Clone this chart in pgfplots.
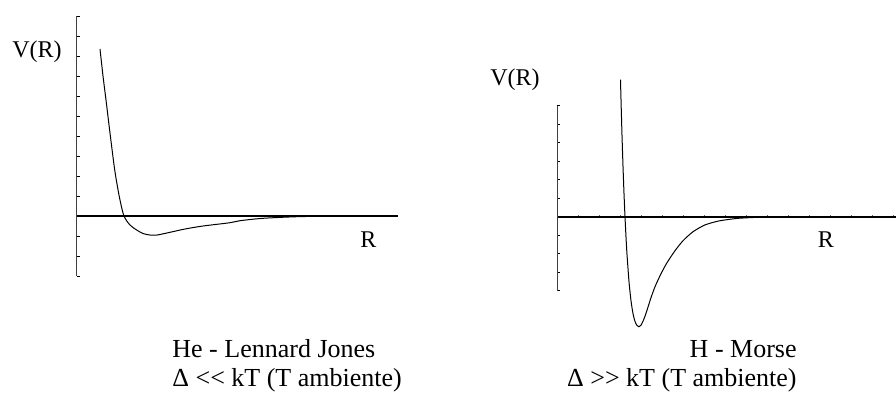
\documentclass[border=0pt]{standalone}
\usepackage{fontspec}
\setmainfont{Liberation Serif}
\usepackage{pgfplots}
\pgfplotsset{compat=1.18}
\begin{document}
\begin{tikzpicture}[x=0.5pt,y=-0.5pt]
\path[use as bounding box] (0,0) rectangle (896,393);
% Left: Lennard-Jones
\begin{axis}[at={(38.5pt,-138pt)}, anchor=south west, scale only axis,
  width=160.5pt, height=130pt,
  xmin=0, xmax=321, ymin=-60, ymax=200,
  axis x line=middle, axis y line=left,
  x axis line style={-, line width=0.9pt},
  y axis line style={-, line width=0.5pt, black!75},
  xtick=\empty, ytick={-60,-40,...,200}, yticklabels={},
  tick align=inside, major tick length=1.3pt,
  tick style={line width=0.5pt, black},
  clip=false]
\addplot[black, line width=0.5pt, smooth, tension=0.5] coordinates {
 (23,167) (26,140) (29,116) (33,83) (37.3,49) (40,32) (43,16) (47,0)
 (53,-9) (59.7,-14) (66,-17.5) (73,-19) (80,-19) (93,-16.3) (108,-13)
 (126,-10) (153,-6.7) (163,-4.7) (186,-2.3) (220,-0.7) (253,-0.2) (300,0)
};
\end{axis}
% Right: Morse
\begin{axis}[at={(278.5pt,-145.3pt)}, anchor=south west, scale only axis,
  width=169.5pt, height=92.35pt,
  xmin=0, xmax=339, ymin=-73.88, ymax=110.82,
  axis x line=middle, axis y line=left,
  x axis line style={-, line width=0.9pt},
  y axis line style={-, line width=0.5pt, black!75},
  xtick={21,42,...,336}, xticklabels={},
  ytick={-73.88,-55.41,-36.94,-18.47,0,18.47,36.94,55.41,73.88,92.35,110.82},
  yticklabels={},
  tick align=inside, major tick length=1.3pt,
  x tick style={line width=0.4pt, black!60},
  y tick style={line width=0.5pt, black},
  xtick align=center,
  clip=false]
\addplot[black, line width=0.5pt, smooth, tension=0.4] coordinates {
 (63.5,137) (64,117.5) (65,81.6) (66,50.5) (67,23.3) (68,0) (69,-20.3)
 (70,-37.6) (72,-64.9) (74,-84) (76,-96.8) (78,-104.7) (80,-108.8) (82,-110)
 (84,-108.5) (86,-104.5) (88,-99.5) (90,-93.5) (94,-81) (98,-70) (104,-57)
 (110,-46) (118,-34) (126,-24) (136,-15) (148,-8.2) (162,-4.2)
 (180,-1.7) (200,-0.64) (230,-0.15) (270,0)
};
\end{axis}
\fontsize{12}{14}\selectfont
\node[anchor=base west, inner sep=0pt] at (12,57.7) {V(R)};
\node[anchor=base east, inner sep=0pt] at (540,85) {V(R)};
\node[anchor=base, inner sep=0pt] at (368.5,247.5) {R};
\node[anchor=base, inner sep=0pt] at (826,247.5) {R};
\fontsize{13}{15}\selectfont
\node[anchor=base west, inner sep=0pt] at (172,357) {He - Lennard Jones};
\node[anchor=base west, inner sep=0pt] at (172,386) {Δ <{}< kT (T ambiente)};
\node[anchor=base east, inner sep=0pt] at (797,357) {H - Morse};
\node[anchor=base east, inner sep=0pt] at (797,386) {Δ >{}> kT (T ambiente)};
\end{tikzpicture}
\end{document}
